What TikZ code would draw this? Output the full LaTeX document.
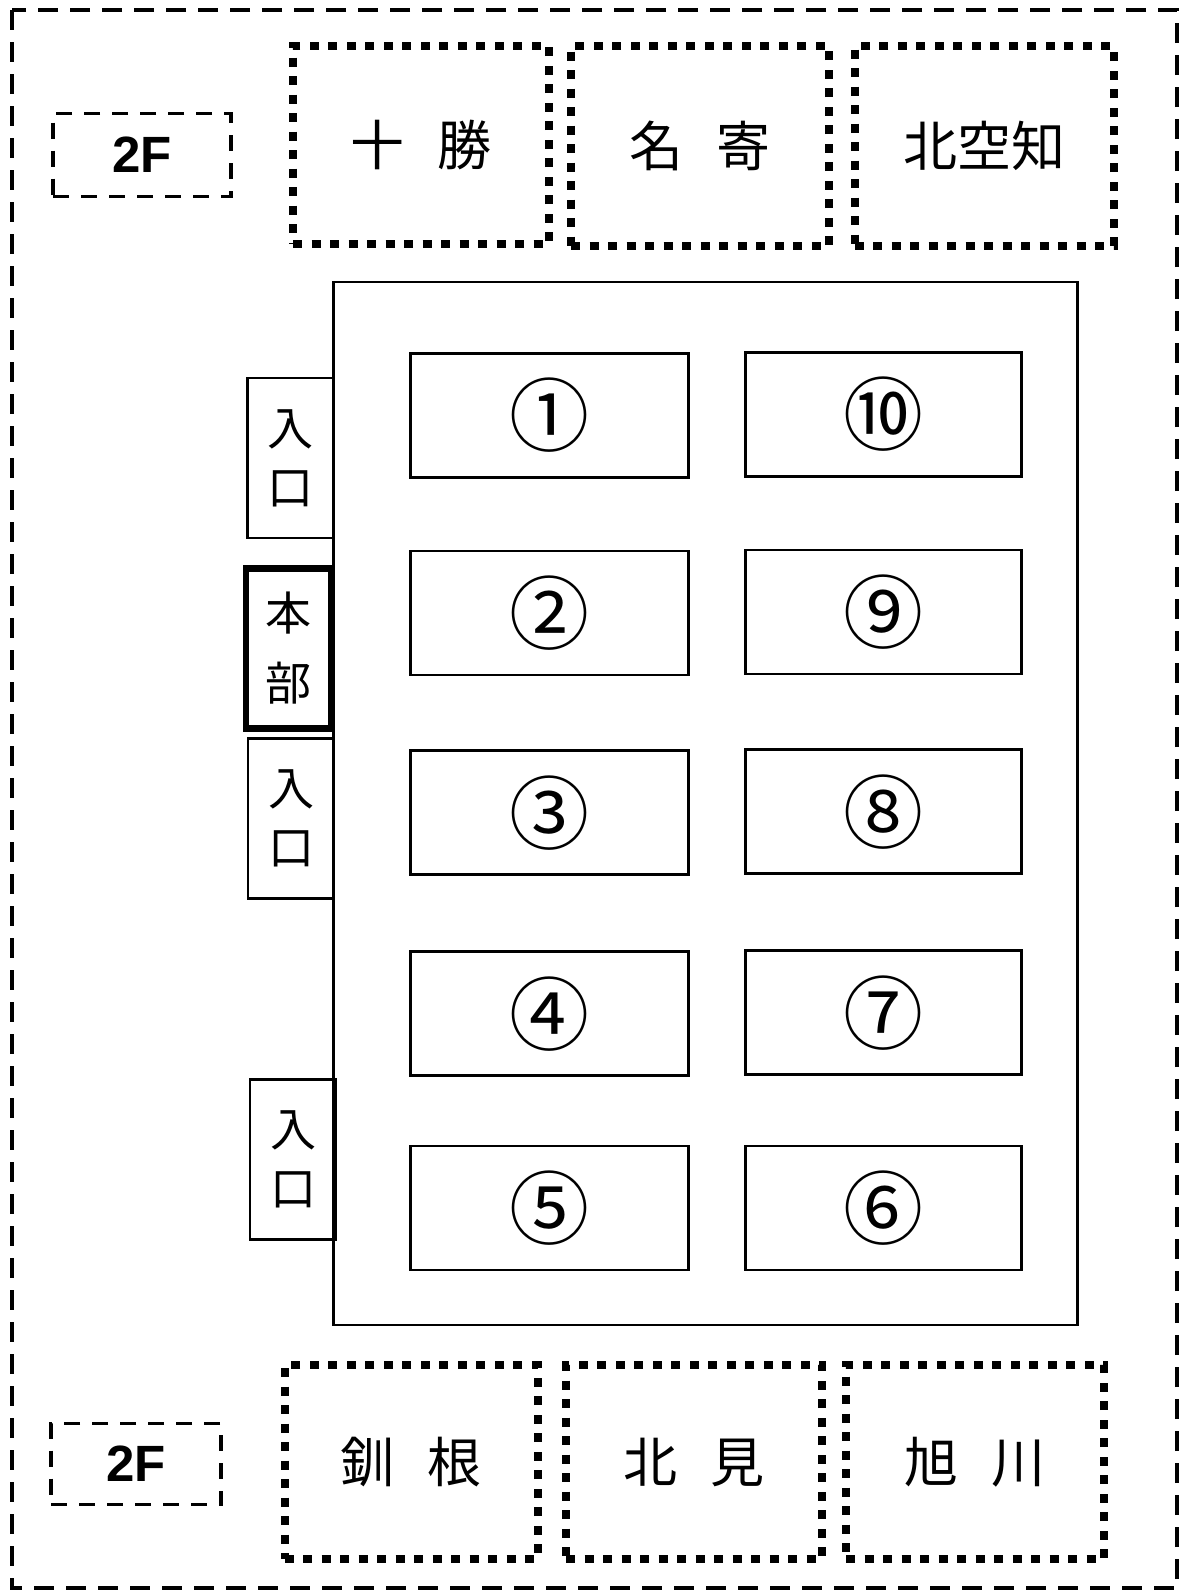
\documentclass[tikz,border=0pt]{standalone}
\usepackage{fontspec}
\newfontfamily\jp{Noto Sans CJK JP}
\newfontfamily\lat{Liberation Sans}
\begin{document}
\begin{tikzpicture}[x=1pt,y=-1pt,
  outerframe/.style={draw, line width=3.5pt, dash pattern=on 20pt off 12pt},
  floorbox/.style={draw, line width=3.5pt, dash pattern=on 16pt off 12pt, font=\lat\bfseries\fontsize{51}{56}\selectfont, inner sep=0pt},
  areabox/.style={draw, line width=8pt, dash pattern=on 9pt off 9.5pt, font=\jp\fontsize{54}{60}\selectfont, inner sep=0pt},
  hall/.style={draw, line width=2.5pt},
  booth/.style={draw, line width=2.5pt, minimum width=278pt, minimum height=124pt, inner sep=0pt, font=\jp\fontsize{80}{90}\selectfont},
  gate/.style={draw, line width=2.5pt, minimum width=86pt, minimum height=160pt, inner sep=0pt, align=center, font=\jp\fontsize{46}{59}\selectfont},
  hq/.style={draw, line width=6.5pt, minimum width=85pt, minimum height=160pt, inner sep=0pt, align=center, font=\jp\fontsize{46}{70}\selectfont}
]
\useasboundingbox (0,0) rectangle (1183,1591);
\draw[outerframe] (12,10) rectangle (1177,1588);

% floor labels
\node[floorbox, minimum width=178pt, minimum height=83pt] (f2top) at (142,155) {2F};
\node[floorbox, minimum width=170pt, minimum height=81pt] (f2bot) at (136,1464) {2F};

% top areas
\node[areabox, minimum width=256pt, minimum height=198pt] (tokachi) at (421,145) {十\hspace{0.6em}勝};
\node[areabox, minimum width=258pt, minimum height=200pt] (nayoro) at (700,146) {名\hspace{0.6em}寄};
\node[areabox, minimum width=259pt, minimum height=200pt] (kitasorachi) at (984,146) {北空知};
% bottom areas
\node[areabox, minimum width=253pt, minimum height=194pt] (kushiro) at (411,1462) {釧\hspace{0.6em}根};
\node[areabox, minimum width=256pt, minimum height=194pt] (kitami) at (694,1462) {北\hspace{0.6em}見};
\node[areabox, minimum width=258pt, minimum height=194pt] (asahikawa) at (975,1462) {旭\hspace{0.6em}川};

% hall
\node[hall, minimum width=744pt, minimum height=1043pt, inner sep=0pt] (hallbox) at (705.6,803.6) {};

% booths
\node[booth] (b1) at (549.4,415.5) {①};
\node[booth] (b2) at (549.4,612.8) {②};
\node[booth] (b3) at (549.4,812.7) {③};
\node[booth] (b4) at (549.4,1013.6) {④};
\node[booth] (b5) at (549.4,1207.9) {⑤};
\node[booth, minimum width=276pt] (b10) at (883.7,414.5) {⑩};
\node[booth, minimum width=276pt] (b9) at (883.7,611.8) {⑨};
\node[booth, minimum width=276pt] (b8) at (883.7,811.7) {⑧};
\node[booth, minimum width=276pt] (b7) at (883.7,1012.6) {⑦};
\node[booth, minimum width=276pt] (b6) at (883.7,1207.9) {⑥};

% entrances and HQ
\node[gate] (g1) at (290.7,458) {入\\口};
\node[hq] (hq) at (288.6,648.3) {本\\部};
\node[gate] (g2) at (291.2,818.7) {入\\口};
\node[gate] (g3) at (293.2,1159.6) {入\\口};
\end{tikzpicture}
\end{document}
